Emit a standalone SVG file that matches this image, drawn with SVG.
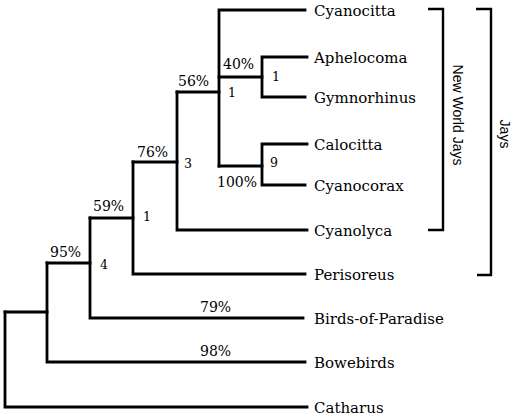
<svg xmlns="http://www.w3.org/2000/svg" width="515" height="418" viewBox="0 0 515 418">
<style>
.br{fill:none;stroke:#000;stroke-width:2.8;stroke-linecap:square;stroke-linejoin:miter}
.bk{fill:none;stroke:#000;stroke-width:2.4;stroke-linecap:butt}
.tx{font-family:"DejaVu Serif","Liberation Serif",serif;font-size:15px;fill:#000}
.pc{font-family:"DejaVu Serif","Liberation Serif",serif;font-size:14px;fill:#000}
.nn{font-family:"DejaVu Serif","Liberation Serif",serif;font-size:12.5px;fill:#000}
.gp{font-family:"Liberation Sans",Arial,sans-serif;font-size:14px;fill:#000}
</style>
<rect width="515" height="418" fill="#fff"/>
<g id="connectors">
<path class="br" d="M5,312 V407 H307"/>
<path class="br" d="M5,312 H47"/>
<path class="br" d="M47,263 V362 H305"/>
<path class="br" d="M47,263 H90"/>
<path class="br" d="M90,218 V318 H303"/>
<path class="br" d="M90,218 H133"/>
<path class="br" d="M133,162 V274 H305"/>
<path class="br" d="M133,162 H177"/>
<path class="br" d="M177,92 V230 H307"/>
<path class="br" d="M177,92 H219"/>
<path class="br" d="M219,166 V10 H305"/>
<path class="br" d="M219,77 H262"/>
<path class="br" d="M307,57 H262 V97 H305"/>
<path class="br" d="M219,166 H262"/>
<path class="br" d="M307,144 H262 V185 H305"/>
</g>
<g id="leaf-cyanocitta"><text class="tx" x="314" y="15.5">Cyanocitta</text></g>
<g id="leaf-aphelocoma"><text class="tx" x="314" y="62.5">Aphelocoma</text></g>
<g id="leaf-gymnorhinus"><text class="tx" x="314" y="102.5">Gymnorhinus</text></g>
<g id="leaf-calocitta"><text class="tx" x="314" y="149.5">Calocitta</text></g>
<g id="leaf-cyanocorax"><text class="tx" x="314" y="190.5">Cyanocorax</text></g>
<g id="leaf-cyanolyca"><text class="tx" x="314" y="235.5">Cyanolyca</text></g>
<g id="leaf-perisoreus"><text class="tx" x="314" y="279.5">Perisoreus</text></g>
<g id="leaf-birds-of-paradise"><text class="tx" x="314" y="323.5">Birds-of-Paradise</text></g>
<g id="leaf-bowebirds"><text class="tx" x="314" y="367.5">Bowebirds</text></g>
<g id="leaf-catharus"><text class="tx" x="314" y="412.5">Catharus</text></g>
<g id="node-aph-gym"><text class="pc" x="223" y="69">40%</text><text class="nn" x="272" y="81">1</text></g>
<g id="node-calo-cyano"><text class="pc" x="217" y="187">100%</text><text class="nn" x="270" y="167">9</text></g>
<g id="node-56"><text class="pc" x="178" y="86">56%</text><text class="nn" x="228" y="97">1</text></g>
<g id="node-76"><text class="pc" x="137" y="157">76%</text><text class="nn" x="184" y="168">3</text></g>
<g id="node-59"><text class="pc" x="93" y="211">59%</text><text class="nn" x="143" y="221">1</text></g>
<g id="node-95"><text class="pc" x="50" y="257">95%</text><text class="nn" x="100" y="269">4</text></g>
<g id="node-79"><text class="pc" x="200" y="312">79%</text></g>
<g id="node-98"><text class="pc" x="200" y="356">98%</text></g>
<g id="bracket-new-world-jays">
<path class="bk" d="M428,9 H443 V230 H428"/>
<text class="gp" text-anchor="middle" transform="translate(453,115) rotate(90)">New World Jays</text>
</g>
<g id="bracket-jays">
<path class="bk" d="M476,9 H491 V275 H477"/>
<text class="gp" text-anchor="middle" transform="translate(500,134) rotate(90)">Jays</text>
</g>
</svg>
